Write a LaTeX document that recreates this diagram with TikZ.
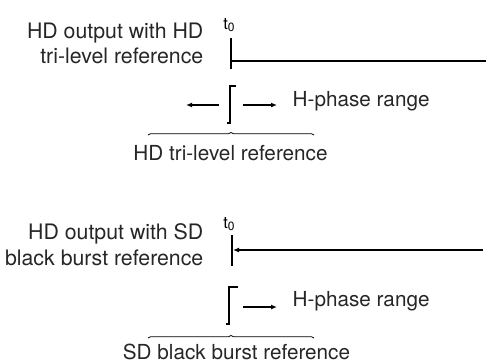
\documentclass[tikz,border=0pt]{standalone}
\usepackage{fontspec}
\setmainfont{TeX Gyre Heros}
\usetikzlibrary{arrows.meta,decorations.pathreplacing}
\newcommand{\tzero}{t\raisebox{-2pt}{\fontsize{12}{12}\selectfont 0}}
\begin{document}
\begin{tikzpicture}[x=1pt,y=-1pt,
  lbl/.style={inner sep=0pt, text=black!85, font=\fontsize{20.7}{25}\selectfont},
  sidelbl/.style={inner sep=0pt, text=black!85, align=right, anchor=east, font=\fontsize{21.3}{#1}\selectfont},
  tlbl/.style={inner sep=0pt, font=\fontsize{16.5}{18}\selectfont},
  tickline/.style={line width=1.8pt},
  sig/.style={line width=1.5pt},
  arr/.style={line width=1.3pt, -{Latex[length=6pt,width=5pt]}},
  brc/.style={line width=0.7pt, decorate, decoration={brace, amplitude=2.5pt}}]
\useasboundingbox (0,0) rectangle (486,362);

% ---------- upper diagram ----------
\node[sidelbl=25] (l1) at (203.5,43.8) {HD output with HD\\tri-level reference};
\node[tlbl, anchor=base] (t1) at (229,29) {\tzero};
\coordinate (t1top) at (231,38);
\coordinate (t1bot) at (231,69);
\draw[tickline] (t1top) -- (t1bot);
\coordinate (s1a) at (231,61);
\coordinate (s1b) at (486,61);
\draw[sig] (s1a) -- (s1b);

\coordinate (k1a) at (235.5,86);
\coordinate (k1b) at (230,86);
\coordinate (k1c) at (230,123);
\coordinate (k1d) at (226.5,123);
\draw[tickline] (k1a) -- (k1b) -- (k1c) -- (k1d);
\coordinate (a1l) at (219,105);
\coordinate (a1le) at (186,105);
\draw[arr] (a1l) -- (a1le);
\coordinate (a1r) at (243,105);
\coordinate (a1re) at (277,105);
\draw[arr] (a1r) -- (a1re);
\node[lbl, anchor=base west] (hp1) at (292.5,106.5) {H-phase range};

\coordinate (b1l) at (148,135);
\coordinate (b1r) at (314,135);
\draw[brc] (b1l) -- (b1r);
\node[lbl, anchor=base] (r1) at (230.5,160) {HD tri-level reference};

% ---------- lower diagram ----------
\node[sidelbl=26] (l2) at (203.5,244.5) {HD output with SD\\black burst reference};
\node[tlbl, anchor=base] (t2) at (229,228) {\tzero};
\coordinate (t2top) at (232,235);
\coordinate (t2bot) at (232,266);
\draw[tickline] (t2top) -- (t2bot);
\coordinate (s2a) at (483,250);
\coordinate (s2b) at (233,250);
\draw[sig, -{Latex[length=6pt,width=5pt]}] (s2a) -- (s2b);

\coordinate (k2a) at (238,287);
\coordinate (k2b) at (229,287);
\coordinate (k2c) at (229,324);
\coordinate (k2d) at (225.5,324);
\draw[tickline] (k2a) -- (k2b) -- (k2c) -- (k2d);
\coordinate (a2r) at (243,307);
\coordinate (a2re) at (277,307);
\draw[arr] (a2r) -- (a2re);
\node[lbl, anchor=base west] (hp2) at (292.5,306.5) {H-phase range};

\coordinate (b2l) at (148,338);
\coordinate (b2r) at (314,338);
\draw[brc] (b2l) -- (b2r);
\node[lbl, anchor=base] (r2) at (236.5,359) {SD black burst reference};
\end{tikzpicture}
\end{document}
